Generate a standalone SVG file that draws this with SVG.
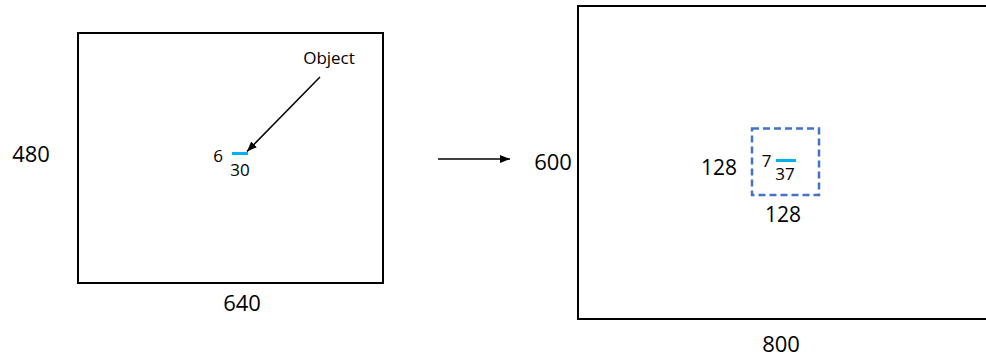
<svg xmlns="http://www.w3.org/2000/svg" width="986" height="358" viewBox="0 0 986 358">
<style>
text{font-family:"Open Sans","Liberation Sans",sans-serif;fill:#000}
.big{font-size:22px}
.mid{font-size:21px}
.sm{font-size:17px}
.frame{fill:none;stroke:#000;stroke-width:2}
.obj{stroke:#00B0F0;stroke-width:3}
.conn{stroke:#000;stroke-width:1.5;fill:none}
</style>
<defs>
<marker id="ah" markerWidth="10" markerHeight="8" refX="10" refY="4" orient="auto" markerUnits="userSpaceOnUse">
<path d="M0,0 L10,4 L0,8 Z" fill="#000"/>
</marker>
</defs>
<rect width="986" height="358" fill="#fff"/>
<g id="source-image">
<rect class="frame" x="78" y="33" width="305" height="250"/>
<text class="big" x="31" y="162" text-anchor="middle">480</text>
<text class="big" x="242" y="311" text-anchor="middle">640</text>
<text class="sm" x="329" y="64" text-anchor="middle">Object</text>
<line class="obj" x1="232" y1="153.5" x2="248" y2="153.5"/>
<text class="sm" x="218" y="162" text-anchor="middle">6</text>
<text class="sm" x="240" y="176" text-anchor="middle">30</text>
</g>
<g id="target-image">
<rect class="frame" x="578" y="6" width="420" height="313"/>
<text class="big" x="553" y="170" text-anchor="middle">600</text>
<text class="big" x="781" y="352" text-anchor="middle">800</text>
</g>
<g id="crop-box">
<rect x="752" y="128.5" width="67" height="66.5" fill="none" stroke="#4472C4" stroke-width="2.5" stroke-dasharray="7,4"/>
<text class="mid" x="719" y="175" text-anchor="middle">128</text>
<text class="mid" x="783" y="222" text-anchor="middle">128</text>
<line class="obj" x1="776" y1="160.5" x2="796" y2="160.5"/>
<text class="sm" x="766.5" y="167" text-anchor="middle">7</text>
<text class="sm" x="785" y="180" text-anchor="middle">37</text>
</g>
<g id="connectors">
<line class="conn" x1="320" y1="77" x2="247" y2="151.5" marker-end="url(#ah)"/>
<line class="conn" x1="438" y1="159" x2="510" y2="159" marker-end="url(#ah)"/>
</g>
</svg>
